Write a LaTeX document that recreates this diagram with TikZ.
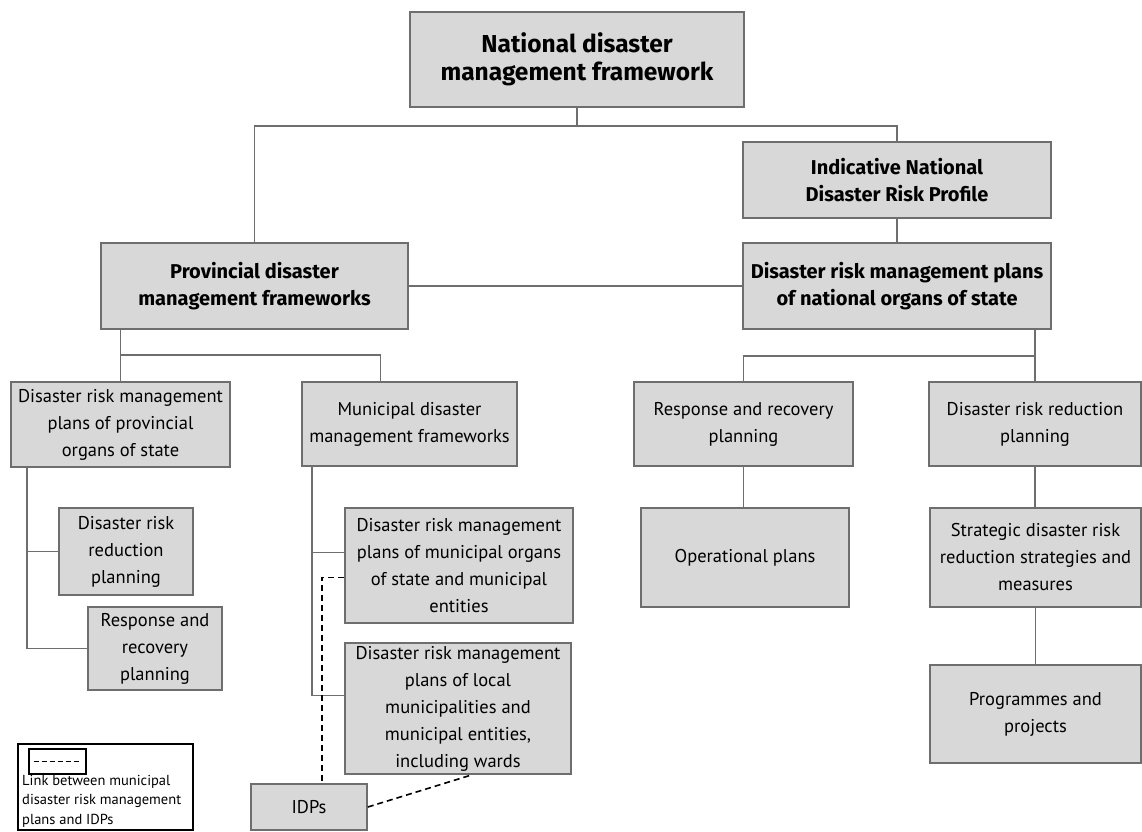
\documentclass[tikz,border=0pt]{standalone}
\usepackage{fontspec}
\setmainfont{PT Sans}
\newfontfamily\headfont{Fira Sans}
\definecolor{boxgray}{HTML}{D8D8D8}
\definecolor{edgegray}{HTML}{6E6E6E}

\begin{document}
\begin{tikzpicture}[x=1pt, y=-1pt,
    main/.style = {draw=edgegray, fill=boxgray, line width=1.6pt, align=center, inner sep=0pt,
                   font=\fontsize{18.5}{27}\selectfont},
    head/.style = {main, font=\headfont\fontsize{20}{27.5}\selectfont\bfseries},
    line/.style = {draw=edgegray, line width=1.7pt},
    link/.style = {draw=black, line width=1.6pt, dash pattern=on 6pt off 4pt}]
    \useasboundingbox (0,0) rectangle (1142,831);

    % Nodes
    \node[head, font=\headfont\fontsize{24.5}{27.5}\selectfont\bfseries, minimum width=334pt, minimum height=95pt] (nat) at (577, 59.5) {National disaster\\management framework};
    \node[head, minimum width=308pt, minimum height=76pt] (profile) at (897, 180) {Indicative National\\Disaster Risk Profile};
    \node[head, minimum width=308pt, minimum height=86pt] (natplans) at (897, 286) {Disaster risk management plans\\of national organs of state};
    \node[head, minimum width=307pt, minimum height=86pt] (prov) at (254.5, 286) {Provincial disaster\\management frameworks};

    \node[main, minimum width=219pt, minimum height=85pt] (provplans) at (120.5, 424.5) {Disaster risk management\\plans of provincial\\organs of state};
    \node[main, minimum width=134pt, minimum height=87pt] (provdrr) at (126, 551.5) {Disaster risk\\reduction\\planning};
    \node[main, minimum width=134pt, minimum height=83pt] (provresp) at (155, 648.5) {Response and\\recovery\\planning};

    \node[main, minimum width=215pt, minimum height=84pt] (muni) at (409.5, 424) {Municipal disaster\\management frameworks};
    \node[main, minimum width=228pt, minimum height=115pt] (muniplans) at (459, 565.5) {Disaster risk management\\plans of municipal organs\\of state and municipal\\entities};
    \node[main, minimum width=226pt, minimum height=131pt] (localplans) at (458, 708.5) {Disaster risk management\\plans of local\\municipalities and\\municipal entities,\\including wards};
    \node[main, minimum width=116pt, minimum height=46pt] (idp) at (309, 807) {IDPs};

    \node[main, minimum width=219pt, minimum height=84pt] (resp) at (743.5, 424) {Response and recovery\\planning};
    \node[main, minimum width=208pt, minimum height=99pt] (ops) at (745, 557.5) {Operational plans};
    \node[main, minimum width=212pt, minimum height=84pt] (drr) at (1035, 424) {Disaster risk reduction\\planning};
    \node[main, minimum width=211pt, minimum height=99pt] (strat) at (1035.5, 557.5) {Strategic disaster risk\\reduction strategies and\\measures};
    \node[main, minimum width=211pt, minimum height=98pt] (prog) at (1035.5, 714) {Programmes and\\projects};

    % Key
    \node[draw=black, line width=1.2pt, minimum width=175pt, minimum height=86pt] (legend) at (105.5, 787) {};
    \node[draw=black, line width=1.2pt, minimum width=57pt, minimum height=25pt] (sample) at (57.5, 761.5) {};
    \node[anchor=north west, align=left, inner sep=0pt, font=\fontsize{14.5}{19.5}\selectfont] (keytext) at (22, 775)
        {Link between municipal\\disaster risk management\\plans and IDPs};
    \draw[line width=1.2pt, dash pattern=on 5pt off 3pt] ([xshift=6pt]sample.west) -- ([xshift=-6pt]sample.east);

    % Edges
    \draw[line] (nat.south) -- ++(0,18) -| (prov.north);
    \draw[line] (nat.south) -- ++(0,18) -| (profile.north);
    \draw[line] (profile) -- (natplans);
    \draw[line] (prov) -- (natplans);

    \draw[line] (provplans.north) -- (provplans.north |- prov.south);
    \draw[line] (provplans.north) -- ++(0,-26) -| ([xshift=-29pt]muni.north);
    \draw[line] ([xshift=17pt]provplans.south west) |- (provdrr.west);
    \draw[line] ([xshift=17pt]provplans.south west) |- (provresp.west);

    \draw[line] ([xshift=11pt]muni.south west) |- ([yshift=13pt]muniplans.west);
    \draw[line] ([xshift=11pt]muni.south west) |- ([yshift=13pt]localplans.west);
    \draw[link] ([yshift=-12pt]muniplans.west) -| ([xshift=13pt]idp.north);
    \draw[link] (idp.east) -- ([xshift=14pt]localplans.south);

    \draw[line] (natplans.south -| drr.north) -- ++(0,26) -| (resp.north);
    \draw[line] (natplans.south -| drr.north) -- (drr.north);
    \draw[line] (resp.south) -- (resp.south |- ops.north);
    \draw[line] (drr.south) -- (drr.south |- strat.north);
    \draw[line] (strat) -- (prog);
\end{tikzpicture}
\end{document}
